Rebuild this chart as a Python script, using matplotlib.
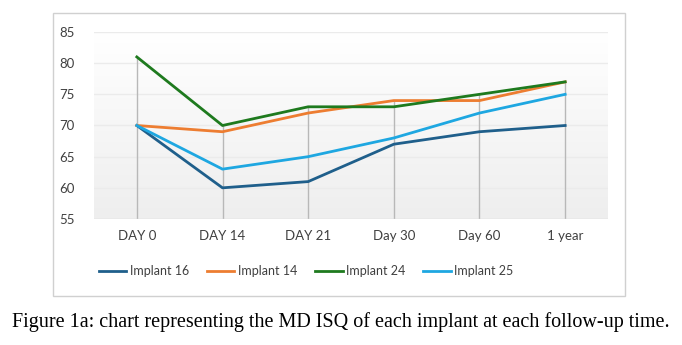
import numpy as np
import matplotlib
matplotlib.use("Agg")
import matplotlib.pyplot as plt
from matplotlib.patches import Rectangle

# datos del grafico
categories = ["DAY 0", "DAY 14", "DAY 21", "Day 30", "Day 60", "1 year"]
implant_16 = [70, 60, 61, 67, 69, 70]
implant_14 = [70, 69, 72, 74, 74, 77]
implant_24 = [81, 70, 73, 73, 75, 77]
implant_25 = [70, 63, 65, 68, 72, 75]

series = [
    ("Implant 16", implant_16, "#1f5f8b"),
    ("Implant 14", implant_14, "#ed7d31"),
    ("Implant 24", implant_24, "#1e7a1e"),
    ("Implant 25", implant_25, "#1ea7e1"),
]

plt.rcParams['font.family'] = ['Lato', 'DejaVu Sans']

fig = plt.figure(figsize=(6.82, 3.45), dpi=100)
W, H = 682, 345

# marco exterior del grafico
fig.patches.append(Rectangle((53 / W, 1 - 296 / H), (625 - 53) / W, (296 - 13) / H,
                             transform=fig.transFigure, fill=False,
                             edgecolor="#d0d0d0", linewidth=1))

ax = fig.add_axes([94 / W, 1 - 219 / H, (608 - 94) / W, (219 - 32) / H])
x = np.arange(len(categories)) + 0.5
ax.set_xlim(0, len(categories))
ax.set_ylim(55, 85)

# fondo en degradado blanco -> gris
grad = np.linspace(0, 1, 256).reshape(-1, 1)
ax.imshow(grad, extent=[0, len(categories), 55, 85], aspect="auto",
          cmap=matplotlib.colors.LinearSegmentedColormap.from_list("g", ["#eeeeee", "#ffffff"]),
          origin="lower", zorder=0)

for yv in range(60, 86, 5):
    ax.axhline(yv, color="#ebebeb", linewidth=1, zorder=1)

# lineas verticales hasta el valor maximo
tops = np.max([implant_16, implant_14, implant_24, implant_25], axis=0)
ax.vlines(x, 55, tops, color="#b8b8b8", linewidth=1, zorder=2)

for name, vals, col in series:
    ax.plot(x, vals, color=col, linewidth=2, label=name, zorder=3)

for s in ax.spines.values():
    s.set_visible(False)
ax.axhline(55, color="#d8d8d8", linewidth=1, zorder=2)
ax.set_yticks(range(55, 86, 5))
ax.set_xticks(x)
ax.set_xticklabels(categories)
ax.tick_params(length=0, labelsize=9.5, labelcolor="#404040")
ax.tick_params(axis="y", pad=14)
ax.tick_params(axis="x", pad=8)

fig.legend(loc="center", bbox_to_anchor=(306 / W, 1 - 271 / H), ncol=4,
           frameon=False, fontsize=9, handlelength=2.2, handletextpad=0.25,
           columnspacing=1.45, labelcolor="#404040")

fig.text(0.5, 1 - 322 / H,
         "Figure 1a: chart representing the MD ISQ of each implant at each follow-up time.",
         ha="center", va="center", fontsize=14.5, family="Liberation Serif")

fig.savefig("out.png", dpi=100)
